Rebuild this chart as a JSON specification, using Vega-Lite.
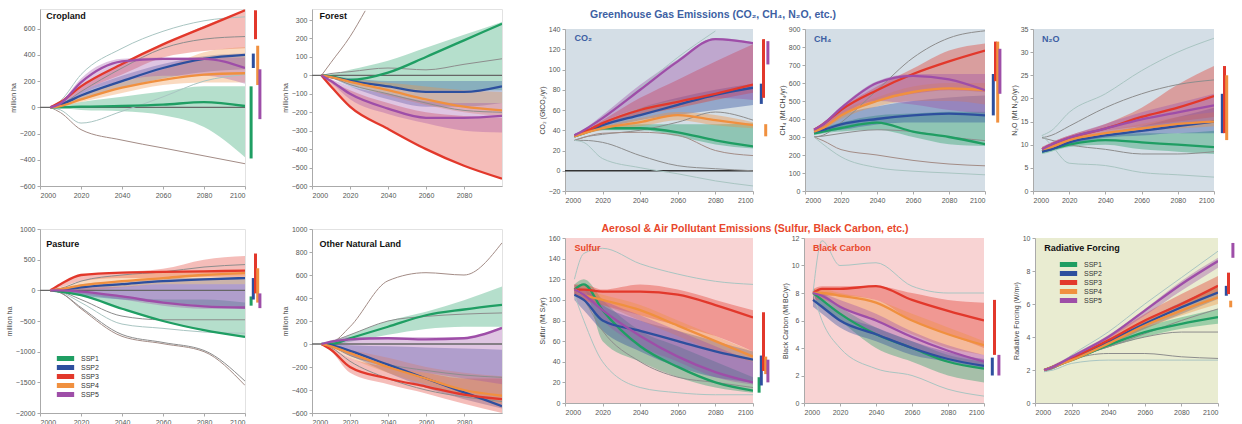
{
"$schema":"https://vega.github.io/schema/vega-lite/v6.json",
"padding":{"left":4,"top":8,"right":0,"bottom":0},
"datasets":{
"ssp":[
{"p":"crop","s":"SSP1","x":2005,"m":0,"lo":0,"hi":0},{"p":"crop","s":"SSP1","x":2010,"m":0,"lo":-5,"hi":10},{"p":"crop","s":"SSP1","x":2020,"m":5,"lo":-20,"hi":40},{"p":"crop","s":"SSP1","x":2040,"m":10,"lo":-30,"hi":80},{"p":"crop","s":"SSP1","x":2060,"m":20,"lo":-60,"hi":120},{"p":"crop","s":"SSP1","x":2080,"m":40,"lo":-150,"hi":160},{"p":"crop","s":"SSP1","x":2100,"m":10,"lo":-380,"hi":160},
{"p":"crop","s":"SSP2","x":2005,"m":0,"lo":0,"hi":0},{"p":"crop","s":"SSP2","x":2010,"m":20,"lo":10,"hi":30},{"p":"crop","s":"SSP2","x":2020,"m":90,"lo":60,"hi":120},{"p":"crop","s":"SSP2","x":2040,"m":200,"lo":150,"hi":240},{"p":"crop","s":"SSP2","x":2060,"m":300,"lo":220,"hi":330},{"p":"crop","s":"SSP2","x":2080,"m":370,"lo":270,"hi":390},{"p":"crop","s":"SSP2","x":2100,"m":400,"lo":290,"hi":410},
{"p":"crop","s":"SSP3","x":2005,"m":0,"lo":0,"hi":0},{"p":"crop","s":"SSP3","x":2010,"m":40,"lo":30,"hi":40},{"p":"crop","s":"SSP3","x":2020,"m":160,"lo":120,"hi":160},{"p":"crop","s":"SSP3","x":2040,"m":330,"lo":250,"hi":330},{"p":"crop","s":"SSP3","x":2060,"m":480,"lo":380,"hi":480},{"p":"crop","s":"SSP3","x":2080,"m":610,"lo":430,"hi":620},{"p":"crop","s":"SSP3","x":2100,"m":740,"lo":450,"hi":740},
{"p":"crop","s":"SSP4","x":2005,"m":0,"lo":0,"hi":0},{"p":"crop","s":"SSP4","x":2010,"m":10,"lo":5,"hi":20},{"p":"crop","s":"SSP4","x":2020,"m":60,"lo":40,"hi":90},{"p":"crop","s":"SSP4","x":2040,"m":150,"lo":110,"hi":190},{"p":"crop","s":"SSP4","x":2060,"m":210,"lo":170,"hi":290},{"p":"crop","s":"SSP4","x":2080,"m":250,"lo":190,"hi":420},{"p":"crop","s":"SSP4","x":2100,"m":260,"lo":190,"hi":460},
{"p":"crop","s":"SSP5","x":2005,"m":0,"lo":0,"hi":0},{"p":"crop","s":"SSP5","x":2010,"m":30,"lo":10,"hi":40},{"p":"crop","s":"SSP5","x":2020,"m":190,"lo":100,"hi":220},{"p":"crop","s":"SSP5","x":2040,"m":350,"lo":200,"hi":370},{"p":"crop","s":"SSP5","x":2060,"m":370,"lo":240,"hi":380},{"p":"crop","s":"SSP5","x":2080,"m":370,"lo":240,"hi":380},{"p":"crop","s":"SSP5","x":2100,"m":300,"lo":180,"hi":380},
{"p":"forest","s":"SSP1","x":2005,"m":0,"lo":0,"hi":0},{"p":"forest","s":"SSP1","x":2010,"m":-5,"lo":-10,"hi":5},{"p":"forest","s":"SSP1","x":2020,"m":-25,"lo":-40,"hi":30},{"p":"forest","s":"SSP1","x":2040,"m":15,"lo":-60,"hi":80},{"p":"forest","s":"SSP1","x":2060,"m":100,"lo":-80,"hi":150},{"p":"forest","s":"SSP1","x":2080,"m":190,"lo":-80,"hi":220},{"p":"forest","s":"SSP1","x":2100,"m":280,"lo":-80,"hi":290},
{"p":"forest","s":"SSP2","x":2005,"m":0,"lo":0,"hi":0},{"p":"forest","s":"SSP2","x":2010,"m":-10,"lo":-15,"hi":-5},{"p":"forest","s":"SSP2","x":2020,"m":-30,"lo":-60,"hi":-15},{"p":"forest","s":"SSP2","x":2040,"m":-60,"lo":-130,"hi":-30},{"p":"forest","s":"SSP2","x":2060,"m":-90,"lo":-170,"hi":-30},{"p":"forest","s":"SSP2","x":2080,"m":-90,"lo":-170,"hi":-30},{"p":"forest","s":"SSP2","x":2100,"m":-60,"lo":-150,"hi":-30},
{"p":"forest","s":"SSP3","x":2005,"m":0,"lo":0,"hi":0},{"p":"forest","s":"SSP3","x":2010,"m":-60,"lo":-60,"hi":-30},{"p":"forest","s":"SSP3","x":2020,"m":-170,"lo":-170,"hi":-80},{"p":"forest","s":"SSP3","x":2040,"m":-290,"lo":-290,"hi":-150},{"p":"forest","s":"SSP3","x":2060,"m":-400,"lo":-400,"hi":-200},{"p":"forest","s":"SSP3","x":2080,"m":-490,"lo":-490,"hi":-220},{"p":"forest","s":"SSP3","x":2100,"m":-560,"lo":-560,"hi":-230},
{"p":"forest","s":"SSP4","x":2005,"m":0,"lo":0,"hi":0},{"p":"forest","s":"SSP4","x":2010,"m":-10,"lo":-15,"hi":-5},{"p":"forest","s":"SSP4","x":2020,"m":-35,"lo":-50,"hi":-20},{"p":"forest","s":"SSP4","x":2040,"m":-80,"lo":-110,"hi":-40},{"p":"forest","s":"SSP4","x":2060,"m":-130,"lo":-160,"hi":-60},{"p":"forest","s":"SSP4","x":2080,"m":-170,"lo":-200,"hi":-80},{"p":"forest","s":"SSP4","x":2100,"m":-190,"lo":-220,"hi":-90},
{"p":"forest","s":"SSP5","x":2005,"m":0,"lo":0,"hi":0},{"p":"forest","s":"SSP5","x":2010,"m":-30,"lo":-40,"hi":-20},{"p":"forest","s":"SSP5","x":2020,"m":-100,"lo":-130,"hi":-60},{"p":"forest","s":"SSP5","x":2040,"m":-180,"lo":-210,"hi":-100},{"p":"forest","s":"SSP5","x":2060,"m":-230,"lo":-260,"hi":-140},{"p":"forest","s":"SSP5","x":2080,"m":-230,"lo":-300,"hi":-150},{"p":"forest","s":"SSP5","x":2100,"m":-220,"lo":-310,"hi":-150},
{"p":"pasture","s":"SSP1","x":2005,"m":0,"lo":0,"hi":0},{"p":"pasture","s":"SSP1","x":2010,"m":-20,"lo":-25,"hi":0},{"p":"pasture","s":"SSP1","x":2020,"m":-80,"lo":-90,"hi":-30},{"p":"pasture","s":"SSP1","x":2040,"m":-300,"lo":-310,"hi":-100},{"p":"pasture","s":"SSP1","x":2060,"m":-500,"lo":-510,"hi":-150},{"p":"pasture","s":"SSP1","x":2080,"m":-650,"lo":-660,"hi":-150},{"p":"pasture","s":"SSP1","x":2100,"m":-760,"lo":-770,"hi":-200},
{"p":"pasture","s":"SSP2","x":2005,"m":0,"lo":0,"hi":0},{"p":"pasture","s":"SSP2","x":2010,"m":10,"lo":-20,"hi":20},{"p":"pasture","s":"SSP2","x":2020,"m":50,"lo":-80,"hi":100},{"p":"pasture","s":"SSP2","x":2040,"m":100,"lo":-150,"hi":150},{"p":"pasture","s":"SSP2","x":2060,"m":150,"lo":-200,"hi":200},{"p":"pasture","s":"SSP2","x":2080,"m":180,"lo":-250,"hi":200},{"p":"pasture","s":"SSP2","x":2100,"m":200,"lo":-300,"hi":210},
{"p":"pasture","s":"SSP3","x":2005,"m":0,"lo":0,"hi":0},{"p":"pasture","s":"SSP3","x":2010,"m":100,"lo":50,"hi":100},{"p":"pasture","s":"SSP3","x":2020,"m":250,"lo":150,"hi":260},{"p":"pasture","s":"SSP3","x":2040,"m":290,"lo":200,"hi":300},{"p":"pasture","s":"SSP3","x":2060,"m":300,"lo":200,"hi":350},{"p":"pasture","s":"SSP3","x":2080,"m":310,"lo":220,"hi":500},{"p":"pasture","s":"SSP3","x":2100,"m":320,"lo":220,"hi":560},
{"p":"pasture","s":"SSP4","x":2005,"m":0,"lo":0,"hi":0},{"p":"pasture","s":"SSP4","x":2010,"m":20,"lo":0,"hi":50},{"p":"pasture","s":"SSP4","x":2020,"m":80,"lo":0,"hi":150},{"p":"pasture","s":"SSP4","x":2040,"m":150,"lo":50,"hi":250},{"p":"pasture","s":"SSP4","x":2060,"m":200,"lo":100,"hi":300},{"p":"pasture","s":"SSP4","x":2080,"m":250,"lo":100,"hi":320},{"p":"pasture","s":"SSP4","x":2100,"m":280,"lo":100,"hi":330},
{"p":"pasture","s":"SSP5","x":2005,"m":0,"lo":0,"hi":0},{"p":"pasture","s":"SSP5","x":2010,"m":0,"lo":-20,"hi":20},{"p":"pasture","s":"SSP5","x":2020,"m":-20,"lo":-60,"hi":40},{"p":"pasture","s":"SSP5","x":2040,"m":-100,"lo":-150,"hi":60},{"p":"pasture","s":"SSP5","x":2060,"m":-200,"lo":-250,"hi":100},{"p":"pasture","s":"SSP5","x":2080,"m":-260,"lo":-300,"hi":100},{"p":"pasture","s":"SSP5","x":2100,"m":-280,"lo":-300,"hi":100},
{"p":"other","s":"SSP1","x":2005,"m":0,"lo":0,"hi":0},{"p":"other","s":"SSP1","x":2010,"m":0,"lo":-10,"hi":10},{"p":"other","s":"SSP1","x":2020,"m":50,"lo":20,"hi":80},{"p":"other","s":"SSP1","x":2040,"m":150,"lo":80,"hi":200},{"p":"other","s":"SSP1","x":2060,"m":250,"lo":130,"hi":280},{"p":"other","s":"SSP1","x":2080,"m":300,"lo":150,"hi":380},{"p":"other","s":"SSP1","x":2100,"m":340,"lo":150,"hi":500},
{"p":"other","s":"SSP2","x":2005,"m":0,"lo":0,"hi":0},{"p":"other","s":"SSP2","x":2010,"m":-10,"lo":-20,"hi":0},{"p":"other","s":"SSP2","x":2020,"m":-60,"lo":-100,"hi":-10},{"p":"other","s":"SSP2","x":2040,"m":-180,"lo":-250,"hi":-20},{"p":"other","s":"SSP2","x":2060,"m":-300,"lo":-380,"hi":-30},{"p":"other","s":"SSP2","x":2080,"m":-420,"lo":-480,"hi":-40},{"p":"other","s":"SSP2","x":2100,"m":-540,"lo":-560,"hi":-50},
{"p":"other","s":"SSP3","x":2005,"m":0,"lo":0,"hi":0},{"p":"other","s":"SSP3","x":2010,"m":-50,"lo":-60,"hi":-30},{"p":"other","s":"SSP3","x":2020,"m":-200,"lo":-250,"hi":-120},{"p":"other","s":"SSP3","x":2040,"m":-300,"lo":-350,"hi":-200},{"p":"other","s":"SSP3","x":2060,"m":-370,"lo":-430,"hi":-250},{"p":"other","s":"SSP3","x":2080,"m":-440,"lo":-520,"hi":-300},{"p":"other","s":"SSP3","x":2100,"m":-480,"lo":-600,"hi":-300},
{"p":"other","s":"SSP4","x":2005,"m":0,"lo":0,"hi":0},{"p":"other","s":"SSP4","x":2010,"m":-20,"lo":-30,"hi":-10},{"p":"other","s":"SSP4","x":2020,"m":-80,"lo":-120,"hi":-50},{"p":"other","s":"SSP4","x":2040,"m":-200,"lo":-250,"hi":-120},{"p":"other","s":"SSP4","x":2060,"m":-300,"lo":-350,"hi":-200},{"p":"other","s":"SSP4","x":2080,"m":-400,"lo":-450,"hi":-250},{"p":"other","s":"SSP4","x":2100,"m":-450,"lo":-520,"hi":-280},
{"p":"other","s":"SSP5","x":2005,"m":0,"lo":0,"hi":0},{"p":"other","s":"SSP5","x":2010,"m":20,"lo":-20,"hi":30},{"p":"other","s":"SSP5","x":2020,"m":40,"lo":-100,"hi":60},{"p":"other","s":"SSP5","x":2040,"m":50,"lo":-200,"hi":60},{"p":"other","s":"SSP5","x":2060,"m":40,"lo":-250,"hi":60},{"p":"other","s":"SSP5","x":2080,"m":50,"lo":-300,"hi":60},{"p":"other","s":"SSP5","x":2100,"m":140,"lo":-350,"hi":150},
{"p":"co2","s":"SSP1","x":2005,"m":34,"lo":33,"hi":36},{"p":"co2","s":"SSP1","x":2010,"m":37,"lo":36,"hi":39},{"p":"co2","s":"SSP1","x":2020,"m":42,"lo":40,"hi":44},{"p":"co2","s":"SSP1","x":2040,"m":42,"lo":40,"hi":46},{"p":"co2","s":"SSP1","x":2060,"m":38,"lo":34,"hi":46},{"p":"co2","s":"SSP1","x":2080,"m":30,"lo":26,"hi":46},{"p":"co2","s":"SSP1","x":2100,"m":24,"lo":22,"hi":47},
{"p":"co2","s":"SSP2","x":2005,"m":35,"lo":34,"hi":36},{"p":"co2","s":"SSP2","x":2010,"m":38,"lo":37,"hi":40},{"p":"co2","s":"SSP2","x":2020,"m":45,"lo":42,"hi":48},{"p":"co2","s":"SSP2","x":2040,"m":55,"lo":50,"hi":62},{"p":"co2","s":"SSP2","x":2060,"m":65,"lo":55,"hi":72},{"p":"co2","s":"SSP2","x":2080,"m":75,"lo":60,"hi":80},{"p":"co2","s":"SSP2","x":2100,"m":82,"lo":65,"hi":86},
{"p":"co2","s":"SSP3","x":2005,"m":34,"lo":33,"hi":36},{"p":"co2","s":"SSP3","x":2010,"m":38,"lo":37,"hi":40},{"p":"co2","s":"SSP3","x":2020,"m":47,"lo":45,"hi":50},{"p":"co2","s":"SSP3","x":2040,"m":60,"lo":55,"hi":72},{"p":"co2","s":"SSP3","x":2060,"m":68,"lo":62,"hi":90},{"p":"co2","s":"SSP3","x":2080,"m":76,"lo":70,"hi":108},{"p":"co2","s":"SSP3","x":2100,"m":85,"lo":77,"hi":125},
{"p":"co2","s":"SSP4","x":2005,"m":34,"lo":33,"hi":36},{"p":"co2","s":"SSP4","x":2010,"m":37,"lo":36,"hi":39},{"p":"co2","s":"SSP4","x":2020,"m":42,"lo":40,"hi":44},{"p":"co2","s":"SSP4","x":2040,"m":48,"lo":44,"hi":52},{"p":"co2","s":"SSP4","x":2060,"m":55,"lo":50,"hi":58},{"p":"co2","s":"SSP4","x":2080,"m":50,"lo":45,"hi":55},{"p":"co2","s":"SSP4","x":2100,"m":45,"lo":42,"hi":48},
{"p":"co2","s":"SSP5","x":2005,"m":35,"lo":34,"hi":36},{"p":"co2","s":"SSP5","x":2010,"m":40,"lo":38,"hi":41},{"p":"co2","s":"SSP5","x":2020,"m":52,"lo":48,"hi":55},{"p":"co2","s":"SSP5","x":2040,"m":80,"lo":62,"hi":85},{"p":"co2","s":"SSP5","x":2060,"m":108,"lo":70,"hi":110},{"p":"co2","s":"SSP5","x":2080,"m":130,"lo":72,"hi":131},{"p":"co2","s":"SSP5","x":2100,"m":126,"lo":70,"hi":127},
{"p":"ch4","s":"SSP1","x":2005,"m":320,"lo":310,"hi":330},{"p":"ch4","s":"SSP1","x":2010,"m":330,"lo":320,"hi":350},{"p":"ch4","s":"SSP1","x":2020,"m":350,"lo":330,"hi":380},{"p":"ch4","s":"SSP1","x":2040,"m":380,"lo":340,"hi":420},{"p":"ch4","s":"SSP1","x":2060,"m":330,"lo":300,"hi":430},{"p":"ch4","s":"SSP1","x":2080,"m":300,"lo":260,"hi":440},{"p":"ch4","s":"SSP1","x":2100,"m":260,"lo":250,"hi":440},
{"p":"ch4","s":"SSP2","x":2005,"m":330,"lo":320,"hi":340},{"p":"ch4","s":"SSP2","x":2010,"m":340,"lo":330,"hi":360},{"p":"ch4","s":"SSP2","x":2020,"m":370,"lo":340,"hi":420},{"p":"ch4","s":"SSP2","x":2040,"m":400,"lo":370,"hi":470},{"p":"ch4","s":"SSP2","x":2060,"m":420,"lo":380,"hi":500},{"p":"ch4","s":"SSP2","x":2080,"m":430,"lo":380,"hi":520},{"p":"ch4","s":"SSP2","x":2100,"m":420,"lo":380,"hi":530},
{"p":"ch4","s":"SSP3","x":2005,"m":340,"lo":330,"hi":345},{"p":"ch4","s":"SSP3","x":2010,"m":370,"lo":350,"hi":380},{"p":"ch4","s":"SSP3","x":2020,"m":450,"lo":420,"hi":460},{"p":"ch4","s":"SSP3","x":2040,"m":560,"lo":500,"hi":580},{"p":"ch4","s":"SSP3","x":2060,"m":650,"lo":540,"hi":680},{"p":"ch4","s":"SSP3","x":2080,"m":720,"lo":560,"hi":780},{"p":"ch4","s":"SSP3","x":2100,"m":780,"lo":550,"hi":820},
{"p":"ch4","s":"SSP4","x":2005,"m":330,"lo":320,"hi":340},{"p":"ch4","s":"SSP4","x":2010,"m":350,"lo":340,"hi":360},{"p":"ch4","s":"SSP4","x":2020,"m":420,"lo":400,"hi":440},{"p":"ch4","s":"SSP4","x":2040,"m":500,"lo":470,"hi":520},{"p":"ch4","s":"SSP4","x":2060,"m":550,"lo":500,"hi":580},{"p":"ch4","s":"SSP4","x":2080,"m":570,"lo":500,"hi":600},{"p":"ch4","s":"SSP4","x":2100,"m":560,"lo":480,"hi":600},
{"p":"ch4","s":"SSP5","x":2005,"m":340,"lo":330,"hi":345},{"p":"ch4","s":"SSP5","x":2010,"m":370,"lo":350,"hi":380},{"p":"ch4","s":"SSP5","x":2020,"m":460,"lo":420,"hi":470},{"p":"ch4","s":"SSP5","x":2040,"m":600,"lo":500,"hi":610},{"p":"ch4","s":"SSP5","x":2060,"m":640,"lo":480,"hi":650},{"p":"ch4","s":"SSP5","x":2080,"m":620,"lo":450,"hi":650},{"p":"ch4","s":"SSP5","x":2100,"m":560,"lo":430,"hi":650},
{"p":"n2o","s":"SSP1","x":2005,"m":8.5,"lo":8,"hi":9},{"p":"n2o","s":"SSP1","x":2010,"m":9,"lo":8.5,"hi":9.5},{"p":"n2o","s":"SSP1","x":2020,"m":10,"lo":9.5,"hi":11},{"p":"n2o","s":"SSP1","x":2040,"m":11,"lo":10,"hi":12},{"p":"n2o","s":"SSP1","x":2060,"m":10.5,"lo":9,"hi":12.5},{"p":"n2o","s":"SSP1","x":2080,"m":10,"lo":8.5,"hi":12.5},{"p":"n2o","s":"SSP1","x":2100,"m":9.5,"lo":8,"hi":13},
{"p":"n2o","s":"SSP2","x":2005,"m":8.5,"lo":8.3,"hi":9},{"p":"n2o","s":"SSP2","x":2010,"m":9,"lo":8.8,"hi":9.5},{"p":"n2o","s":"SSP2","x":2020,"m":10.5,"lo":10,"hi":11},{"p":"n2o","s":"SSP2","x":2040,"m":12,"lo":11.5,"hi":12.5},{"p":"n2o","s":"SSP2","x":2060,"m":13,"lo":12,"hi":14},{"p":"n2o","s":"SSP2","x":2080,"m":14,"lo":12.5,"hi":16},{"p":"n2o","s":"SSP2","x":2100,"m":15,"lo":12.5,"hi":18},
{"p":"n2o","s":"SSP3","x":2005,"m":9,"lo":8.5,"hi":9.5},{"p":"n2o","s":"SSP3","x":2010,"m":10,"lo":9.5,"hi":10.5},{"p":"n2o","s":"SSP3","x":2020,"m":11.5,"lo":11,"hi":12},{"p":"n2o","s":"SSP3","x":2040,"m":13.5,"lo":13,"hi":14.5},{"p":"n2o","s":"SSP3","x":2060,"m":16,"lo":14,"hi":18},{"p":"n2o","s":"SSP3","x":2080,"m":18,"lo":15,"hi":23},{"p":"n2o","s":"SSP3","x":2100,"m":20.5,"lo":16,"hi":27},
{"p":"n2o","s":"SSP4","x":2005,"m":9,"lo":8.5,"hi":9.5},{"p":"n2o","s":"SSP4","x":2010,"m":9.5,"lo":9,"hi":10},{"p":"n2o","s":"SSP4","x":2020,"m":11,"lo":10.5,"hi":11.5},{"p":"n2o","s":"SSP4","x":2040,"m":12.5,"lo":12,"hi":13},{"p":"n2o","s":"SSP4","x":2060,"m":13.5,"lo":13,"hi":14.5},{"p":"n2o","s":"SSP4","x":2080,"m":14.5,"lo":13.5,"hi":16},{"p":"n2o","s":"SSP4","x":2100,"m":15,"lo":14,"hi":17},
{"p":"n2o","s":"SSP5","x":2005,"m":9,"lo":8.5,"hi":9.5},{"p":"n2o","s":"SSP5","x":2010,"m":10,"lo":9.5,"hi":10.5},{"p":"n2o","s":"SSP5","x":2020,"m":11.5,"lo":11,"hi":12},{"p":"n2o","s":"SSP5","x":2040,"m":13.5,"lo":12.5,"hi":14.5},{"p":"n2o","s":"SSP5","x":2060,"m":15.5,"lo":13.5,"hi":17},{"p":"n2o","s":"SSP5","x":2080,"m":17,"lo":14,"hi":19},{"p":"n2o","s":"SSP5","x":2100,"m":18.5,"lo":15,"hi":21},
{"p":"sulfur","s":"SSP1","x":2005,"m":110,"lo":105,"hi":115},{"p":"sulfur","s":"SSP1","x":2010,"m":115,"lo":110,"hi":120},{"p":"sulfur","s":"SSP1","x":2020,"m":90,"lo":60,"hi":100},{"p":"sulfur","s":"SSP1","x":2040,"m":55,"lo":40,"hi":70},{"p":"sulfur","s":"SSP1","x":2060,"m":35,"lo":25,"hi":55},{"p":"sulfur","s":"SSP1","x":2080,"m":20,"lo":15,"hi":40},{"p":"sulfur","s":"SSP1","x":2100,"m":12,"lo":10,"hi":25},
{"p":"sulfur","s":"SSP2","x":2005,"m":105,"lo":100,"hi":110},{"p":"sulfur","s":"SSP2","x":2010,"m":100,"lo":90,"hi":110},{"p":"sulfur","s":"SSP2","x":2020,"m":80,"lo":70,"hi":95},{"p":"sulfur","s":"SSP2","x":2040,"m":70,"lo":50,"hi":80},{"p":"sulfur","s":"SSP2","x":2060,"m":60,"lo":35,"hi":70},{"p":"sulfur","s":"SSP2","x":2080,"m":50,"lo":25,"hi":60},{"p":"sulfur","s":"SSP2","x":2100,"m":42,"lo":20,"hi":50},
{"p":"sulfur","s":"SSP3","x":2005,"m":110,"lo":105,"hi":115},{"p":"sulfur","s":"SSP3","x":2010,"m":110,"lo":100,"hi":115},{"p":"sulfur","s":"SSP3","x":2020,"m":108,"lo":95,"hi":110},{"p":"sulfur","s":"SSP3","x":2040,"m":108,"lo":85,"hi":115},{"p":"sulfur","s":"SSP3","x":2060,"m":105,"lo":75,"hi":110},{"p":"sulfur","s":"SSP3","x":2080,"m":95,"lo":65,"hi":100},{"p":"sulfur","s":"SSP3","x":2100,"m":83,"lo":50,"hi":90},
{"p":"sulfur","s":"SSP4","x":2005,"m":110,"lo":105,"hi":115},{"p":"sulfur","s":"SSP4","x":2010,"m":105,"lo":100,"hi":110},{"p":"sulfur","s":"SSP4","x":2020,"m":100,"lo":95,"hi":105},{"p":"sulfur","s":"SSP4","x":2040,"m":90,"lo":80,"hi":95},{"p":"sulfur","s":"SSP4","x":2060,"m":75,"lo":65,"hi":80},{"p":"sulfur","s":"SSP4","x":2080,"m":60,"lo":50,"hi":65},{"p":"sulfur","s":"SSP4","x":2100,"m":45,"lo":40,"hi":50},
{"p":"sulfur","s":"SSP5","x":2005,"m":110,"lo":105,"hi":115},{"p":"sulfur","s":"SSP5","x":2010,"m":105,"lo":100,"hi":110},{"p":"sulfur","s":"SSP5","x":2020,"m":90,"lo":80,"hi":100},{"p":"sulfur","s":"SSP5","x":2040,"m":65,"lo":55,"hi":85},{"p":"sulfur","s":"SSP5","x":2060,"m":45,"lo":40,"hi":70},{"p":"sulfur","s":"SSP5","x":2080,"m":30,"lo":25,"hi":55},{"p":"sulfur","s":"SSP5","x":2100,"m":20,"lo":18,"hi":40},
{"p":"bc","s":"SSP1","x":2005,"m":8,"lo":7.5,"hi":8.3},{"p":"bc","s":"SSP1","x":2010,"m":7.5,"lo":7,"hi":8},{"p":"bc","s":"SSP1","x":2020,"m":6.5,"lo":6,"hi":7},{"p":"bc","s":"SSP1","x":2040,"m":5,"lo":4,"hi":5.5},{"p":"bc","s":"SSP1","x":2060,"m":4,"lo":3,"hi":4.5},{"p":"bc","s":"SSP1","x":2080,"m":3,"lo":2,"hi":3.5},{"p":"bc","s":"SSP1","x":2100,"m":2.5,"lo":1.5,"hi":3},
{"p":"bc","s":"SSP2","x":2005,"m":7.5,"lo":7,"hi":8},{"p":"bc","s":"SSP2","x":2010,"m":7,"lo":6.5,"hi":7.5},{"p":"bc","s":"SSP2","x":2020,"m":6,"lo":5.5,"hi":6.5},{"p":"bc","s":"SSP2","x":2040,"m":5,"lo":4.5,"hi":5.5},{"p":"bc","s":"SSP2","x":2060,"m":4,"lo":3.5,"hi":4.5},{"p":"bc","s":"SSP2","x":2080,"m":3.2,"lo":3,"hi":3.7},{"p":"bc","s":"SSP2","x":2100,"m":2.7,"lo":2.5,"hi":3.2},
{"p":"bc","s":"SSP3","x":2005,"m":8,"lo":7.8,"hi":8.3},{"p":"bc","s":"SSP3","x":2010,"m":8.3,"lo":7.8,"hi":8.5},{"p":"bc","s":"SSP3","x":2020,"m":8.3,"lo":7.8,"hi":8.5},{"p":"bc","s":"SSP3","x":2040,"m":8.5,"lo":7.5,"hi":8.5},{"p":"bc","s":"SSP3","x":2060,"m":7.5,"lo":6,"hi":8},{"p":"bc","s":"SSP3","x":2080,"m":6.7,"lo":5,"hi":7.5},{"p":"bc","s":"SSP3","x":2100,"m":6,"lo":4,"hi":7.3},
{"p":"bc","s":"SSP4","x":2005,"m":8,"lo":7.5,"hi":8.3},{"p":"bc","s":"SSP4","x":2010,"m":8,"lo":7.5,"hi":8.3},{"p":"bc","s":"SSP4","x":2020,"m":7.8,"lo":7,"hi":8},{"p":"bc","s":"SSP4","x":2040,"m":7.3,"lo":6,"hi":7.5},{"p":"bc","s":"SSP4","x":2060,"m":6,"lo":5,"hi":6.5},{"p":"bc","s":"SSP4","x":2080,"m":5,"lo":4,"hi":5.5},{"p":"bc","s":"SSP4","x":2100,"m":4.2,"lo":3.5,"hi":4.5},
{"p":"bc","s":"SSP5","x":2005,"m":8,"lo":7.5,"hi":8.3},{"p":"bc","s":"SSP5","x":2010,"m":7.8,"lo":7.5,"hi":8},{"p":"bc","s":"SSP5","x":2020,"m":7,"lo":6.5,"hi":7.5},{"p":"bc","s":"SSP5","x":2040,"m":6,"lo":5,"hi":6.5},{"p":"bc","s":"SSP5","x":2060,"m":4.8,"lo":4,"hi":5.2},{"p":"bc","s":"SSP5","x":2080,"m":3.8,"lo":3.2,"hi":4.2},{"p":"bc","s":"SSP5","x":2100,"m":3,"lo":2.7,"hi":3.5},
{"p":"rf","s":"SSP1","x":2005,"m":2.0,"lo":2.0,"hi":2.0},{"p":"rf","s":"SSP1","x":2010,"m":2.2,"lo":2.2,"hi":2.2},{"p":"rf","s":"SSP1","x":2020,"m":2.6,"lo":2.6,"hi":2.7},{"p":"rf","s":"SSP1","x":2040,"m":3.5,"lo":3.4,"hi":3.7},{"p":"rf","s":"SSP1","x":2060,"m":4.3,"lo":4.0,"hi":4.6},{"p":"rf","s":"SSP1","x":2080,"m":4.8,"lo":4.5,"hi":5.2},{"p":"rf","s":"SSP1","x":2100,"m":5.2,"lo":4.8,"hi":5.7},
{"p":"rf","s":"SSP2","x":2005,"m":2.0,"lo":2.0,"hi":2.0},{"p":"rf","s":"SSP2","x":2010,"m":2.2,"lo":2.2,"hi":2.2},{"p":"rf","s":"SSP2","x":2020,"m":2.7,"lo":2.6,"hi":2.7},{"p":"rf","s":"SSP2","x":2040,"m":3.7,"lo":3.5,"hi":3.8},{"p":"rf","s":"SSP2","x":2060,"m":4.8,"lo":4.5,"hi":5.0},{"p":"rf","s":"SSP2","x":2080,"m":5.8,"lo":5.4,"hi":6.1},{"p":"rf","s":"SSP2","x":2100,"m":6.7,"lo":6.3,"hi":7.0},
{"p":"rf","s":"SSP3","x":2005,"m":2.0,"lo":2.0,"hi":2.0},{"p":"rf","s":"SSP3","x":2010,"m":2.2,"lo":2.2,"hi":2.3},{"p":"rf","s":"SSP3","x":2020,"m":2.7,"lo":2.7,"hi":2.8},{"p":"rf","s":"SSP3","x":2040,"m":3.8,"lo":3.7,"hi":4.0},{"p":"rf","s":"SSP3","x":2060,"m":5.0,"lo":4.8,"hi":5.4},{"p":"rf","s":"SSP3","x":2080,"m":6.0,"lo":5.8,"hi":6.6},{"p":"rf","s":"SSP3","x":2100,"m":7.1,"lo":6.6,"hi":7.7},
{"p":"rf","s":"SSP4","x":2005,"m":2.0,"lo":2.0,"hi":2.0},{"p":"rf","s":"SSP4","x":2010,"m":2.2,"lo":2.2,"hi":2.2},{"p":"rf","s":"SSP4","x":2020,"m":2.6,"lo":2.6,"hi":2.7},{"p":"rf","s":"SSP4","x":2040,"m":3.6,"lo":3.5,"hi":3.8},{"p":"rf","s":"SSP4","x":2060,"m":4.7,"lo":4.5,"hi":5.0},{"p":"rf","s":"SSP4","x":2080,"m":5.6,"lo":5.3,"hi":6.0},{"p":"rf","s":"SSP4","x":2100,"m":6.4,"lo":6.0,"hi":7.0},
{"p":"rf","s":"SSP5","x":2005,"m":2.0,"lo":2.0,"hi":2.0},{"p":"rf","s":"SSP5","x":2010,"m":2.2,"lo":2.2,"hi":2.3},{"p":"rf","s":"SSP5","x":2020,"m":2.8,"lo":2.8,"hi":2.9},{"p":"rf","s":"SSP5","x":2040,"m":4.0,"lo":3.9,"hi":4.1},{"p":"rf","s":"SSP5","x":2060,"m":5.6,"lo":5.3,"hi":5.7},{"p":"rf","s":"SSP5","x":2080,"m":7.2,"lo":6.8,"hi":7.4},{"p":"rf","s":"SSP5","x":2100,"m":8.6,"lo":8.2,"hi":8.8}
],
"ref":[
{"p":"crop","r":"SRES baseline","x":2005,"v":0},{"p":"crop","r":"SRES baseline","x":2010,"v":50},{"p":"crop","r":"SRES baseline","x":2020,"v":250},{"p":"crop","r":"SRES baseline","x":2040,"v":450},{"p":"crop","r":"SRES baseline","x":2060,"v":580},{"p":"crop","r":"SRES baseline","x":2080,"v":660},{"p":"crop","r":"SRES baseline","x":2100,"v":690},
{"p":"crop","r":"RCP 4.5","x":2005,"v":0},{"p":"crop","r":"RCP 4.5","x":2010,"v":-40},{"p":"crop","r":"RCP 4.5","x":2020,"v":-170},{"p":"crop","r":"RCP 4.5","x":2040,"v":-250},{"p":"crop","r":"RCP 4.5","x":2060,"v":-310},{"p":"crop","r":"RCP 4.5","x":2080,"v":-370},{"p":"crop","r":"RCP 4.5","x":2100,"v":-430},
{"p":"crop","r":"RCP 8.5","x":2005,"v":0},{"p":"crop","r":"RCP 8.5","x":2010,"v":20},{"p":"crop","r":"RCP 8.5","x":2020,"v":120},{"p":"crop","r":"RCP 8.5","x":2040,"v":300},{"p":"crop","r":"RCP 8.5","x":2060,"v":450},{"p":"crop","r":"RCP 8.5","x":2080,"v":520},{"p":"crop","r":"RCP 8.5","x":2100,"v":540},
{"p":"crop","r":"SRES mitigation","x":2005,"v":0},{"p":"crop","r":"SRES mitigation","x":2010,"v":-20},{"p":"crop","r":"SRES mitigation","x":2020,"v":-120},{"p":"crop","r":"SRES mitigation","x":2040,"v":-30},{"p":"crop","r":"SRES mitigation","x":2060,"v":80},{"p":"crop","r":"SRES mitigation","x":2080,"v":200},{"p":"crop","r":"SRES mitigation","x":2100,"v":250},
{"p":"forest","r":"RCP 4.5","x":2005,"v":0},{"p":"forest","r":"RCP 4.5","x":2010,"v":70},{"p":"forest","r":"RCP 4.5","x":2020,"v":210},{"p":"forest","r":"RCP 4.5","x":2028,"v":350},
{"p":"forest","r":"RCP 8.5","x":2005,"v":0},{"p":"forest","r":"RCP 8.5","x":2010,"v":10},{"p":"forest","r":"RCP 8.5","x":2020,"v":20},{"p":"forest","r":"RCP 8.5","x":2040,"v":40},{"p":"forest","r":"RCP 8.5","x":2060,"v":30},{"p":"forest","r":"RCP 8.5","x":2080,"v":60},{"p":"forest","r":"RCP 8.5","x":2100,"v":90},
{"p":"forest","r":"RCP 6.0","x":2005,"v":0},{"p":"forest","r":"RCP 6.0","x":2010,"v":-10},{"p":"forest","r":"RCP 6.0","x":2020,"v":-50},{"p":"forest","r":"RCP 6.0","x":2040,"v":-100},{"p":"forest","r":"RCP 6.0","x":2060,"v":-150},{"p":"forest","r":"RCP 6.0","x":2080,"v":-190},{"p":"forest","r":"RCP 6.0","x":2100,"v":-200},
{"p":"pasture","r":"SRES baseline","x":2005,"v":0},{"p":"pasture","r":"SRES baseline","x":2010,"v":-30},{"p":"pasture","r":"SRES baseline","x":2020,"v":-200},{"p":"pasture","r":"SRES baseline","x":2040,"v":-550},{"p":"pasture","r":"SRES baseline","x":2060,"v":-620},{"p":"pasture","r":"SRES baseline","x":2080,"v":-680},{"p":"pasture","r":"SRES baseline","x":2100,"v":-700},
{"p":"pasture","r":"RCP 4.5","x":2005,"v":0},{"p":"pasture","r":"RCP 4.5","x":2010,"v":-40},{"p":"pasture","r":"RCP 4.5","x":2020,"v":-300},{"p":"pasture","r":"RCP 4.5","x":2040,"v":-750},{"p":"pasture","r":"RCP 4.5","x":2060,"v":-870},{"p":"pasture","r":"RCP 4.5","x":2080,"v":-1000},{"p":"pasture","r":"RCP 4.5","x":2100,"v":-1550},
{"p":"pasture","r":"RCP 2.6","x":2005,"v":0},{"p":"pasture","r":"RCP 2.6","x":2010,"v":-40},{"p":"pasture","r":"RCP 2.6","x":2020,"v":-280},{"p":"pasture","r":"RCP 2.6","x":2040,"v":-720},{"p":"pasture","r":"RCP 2.6","x":2060,"v":-850},{"p":"pasture","r":"RCP 2.6","x":2080,"v":-980},{"p":"pasture","r":"RCP 2.6","x":2100,"v":-1480},
{"p":"pasture","r":"RCP 6.0","x":2005,"v":0},{"p":"pasture","r":"RCP 6.0","x":2010,"v":-20},{"p":"pasture","r":"RCP 6.0","x":2020,"v":-150},{"p":"pasture","r":"RCP 6.0","x":2040,"v":-420},{"p":"pasture","r":"RCP 6.0","x":2060,"v":-480},{"p":"pasture","r":"RCP 6.0","x":2080,"v":-480},{"p":"pasture","r":"RCP 6.0","x":2100,"v":-480},
{"p":"pasture","r":"RCP 8.5","x":2005,"v":0},{"p":"pasture","r":"RCP 8.5","x":2010,"v":30},{"p":"pasture","r":"RCP 8.5","x":2020,"v":150},{"p":"pasture","r":"RCP 8.5","x":2040,"v":250},{"p":"pasture","r":"RCP 8.5","x":2060,"v":300},{"p":"pasture","r":"RCP 8.5","x":2080,"v":380},{"p":"pasture","r":"RCP 8.5","x":2100,"v":420},
{"p":"other","r":"RCP 4.5","x":2005,"v":0},{"p":"other","r":"RCP 4.5","x":2010,"v":10},{"p":"other","r":"RCP 4.5","x":2020,"v":150},{"p":"other","r":"RCP 4.5","x":2040,"v":550},{"p":"other","r":"RCP 4.5","x":2060,"v":620},{"p":"other","r":"RCP 4.5","x":2080,"v":600},{"p":"other","r":"RCP 4.5","x":2100,"v":880},
{"p":"other","r":"RCP 8.5","x":2005,"v":0},{"p":"other","r":"RCP 8.5","x":2010,"v":20},{"p":"other","r":"RCP 8.5","x":2020,"v":80},{"p":"other","r":"RCP 8.5","x":2040,"v":200},{"p":"other","r":"RCP 8.5","x":2060,"v":240},{"p":"other","r":"RCP 8.5","x":2080,"v":260},{"p":"other","r":"RCP 8.5","x":2100,"v":270},
{"p":"other","r":"RCP 6.0","x":2005,"v":0},{"p":"other","r":"RCP 6.0","x":2010,"v":-20},{"p":"other","r":"RCP 6.0","x":2020,"v":-100},{"p":"other","r":"RCP 6.0","x":2040,"v":-180},{"p":"other","r":"RCP 6.0","x":2060,"v":-230},{"p":"other","r":"RCP 6.0","x":2080,"v":-270},{"p":"other","r":"RCP 6.0","x":2100,"v":-290},
{"p":"other","r":"RCP 2.6","x":2005,"v":0},{"p":"other","r":"RCP 2.6","x":2010,"v":-30},{"p":"other","r":"RCP 2.6","x":2020,"v":-150},{"p":"other","r":"RCP 2.6","x":2040,"v":-300},{"p":"other","r":"RCP 2.6","x":2060,"v":-400},{"p":"other","r":"RCP 2.6","x":2080,"v":-460},{"p":"other","r":"RCP 2.6","x":2100,"v":-500},
{"p":"co2","r":"SRES baseline","x":2005,"v":33},{"p":"co2","r":"SRES baseline","x":2010,"v":38},{"p":"co2","r":"SRES baseline","x":2020,"v":52},{"p":"co2","r":"SRES baseline","x":2040,"v":82},{"p":"co2","r":"SRES baseline","x":2060,"v":112},{"p":"co2","r":"SRES baseline","x":2080,"v":138},
{"p":"co2","r":"RCP 6.0","x":2005,"v":30},{"p":"co2","r":"RCP 6.0","x":2010,"v":33},{"p":"co2","r":"RCP 6.0","x":2020,"v":36},{"p":"co2","r":"RCP 6.0","x":2040,"v":40},{"p":"co2","r":"RCP 6.0","x":2060,"v":48},{"p":"co2","r":"RCP 6.0","x":2080,"v":58},{"p":"co2","r":"RCP 6.0","x":2100,"v":50},
{"p":"co2","r":"RCP 4.5","x":2005,"v":30},{"p":"co2","r":"RCP 4.5","x":2010,"v":33},{"p":"co2","r":"RCP 4.5","x":2020,"v":37},{"p":"co2","r":"RCP 4.5","x":2040,"v":38},{"p":"co2","r":"RCP 4.5","x":2060,"v":35},{"p":"co2","r":"RCP 4.5","x":2080,"v":20},{"p":"co2","r":"RCP 4.5","x":2100,"v":15},
{"p":"co2","r":"RCP 2.6","x":2005,"v":30},{"p":"co2","r":"RCP 2.6","x":2010,"v":30},{"p":"co2","r":"RCP 2.6","x":2020,"v":28},{"p":"co2","r":"RCP 2.6","x":2040,"v":15},{"p":"co2","r":"RCP 2.6","x":2060,"v":5},{"p":"co2","r":"RCP 2.6","x":2080,"v":2},{"p":"co2","r":"RCP 2.6","x":2100,"v":0},
{"p":"co2","r":"SRES mitigation","x":2005,"v":30},{"p":"co2","r":"SRES mitigation","x":2010,"v":28},{"p":"co2","r":"SRES mitigation","x":2020,"v":12},{"p":"co2","r":"SRES mitigation","x":2040,"v":3},{"p":"co2","r":"SRES mitigation","x":2060,"v":-3},{"p":"co2","r":"SRES mitigation","x":2080,"v":-10},{"p":"co2","r":"SRES mitigation","x":2100,"v":-15},
{"p":"ch4","r":"RCP 8.5","x":2005,"v":300},{"p":"ch4","r":"RCP 8.5","x":2010,"v":310},{"p":"ch4","r":"RCP 8.5","x":2020,"v":380},{"p":"ch4","r":"RCP 8.5","x":2040,"v":560},{"p":"ch4","r":"RCP 8.5","x":2060,"v":740},{"p":"ch4","r":"RCP 8.5","x":2080,"v":850},{"p":"ch4","r":"RCP 8.5","x":2100,"v":890},
{"p":"ch4","r":"RCP 6.0","x":2005,"v":300},{"p":"ch4","r":"RCP 6.0","x":2010,"v":305},{"p":"ch4","r":"RCP 6.0","x":2020,"v":320},{"p":"ch4","r":"RCP 6.0","x":2040,"v":340},{"p":"ch4","r":"RCP 6.0","x":2060,"v":330},{"p":"ch4","r":"RCP 6.0","x":2080,"v":300},{"p":"ch4","r":"RCP 6.0","x":2100,"v":280},
{"p":"ch4","r":"RCP 4.5","x":2005,"v":300},{"p":"ch4","r":"RCP 4.5","x":2010,"v":280},{"p":"ch4","r":"RCP 4.5","x":2020,"v":230},{"p":"ch4","r":"RCP 4.5","x":2040,"v":200},{"p":"ch4","r":"RCP 4.5","x":2060,"v":170},{"p":"ch4","r":"RCP 4.5","x":2080,"v":150},{"p":"ch4","r":"RCP 4.5","x":2100,"v":140},
{"p":"ch4","r":"SRES mitigation","x":2005,"v":300},{"p":"ch4","r":"SRES mitigation","x":2010,"v":260},{"p":"ch4","r":"SRES mitigation","x":2020,"v":190},{"p":"ch4","r":"SRES mitigation","x":2040,"v":130},{"p":"ch4","r":"SRES mitigation","x":2060,"v":110},{"p":"ch4","r":"SRES mitigation","x":2080,"v":100},{"p":"ch4","r":"SRES mitigation","x":2100,"v":90},
{"p":"n2o","r":"SRES baseline","x":2005,"v":12},{"p":"n2o","r":"SRES baseline","x":2010,"v":13},{"p":"n2o","r":"SRES baseline","x":2020,"v":17},{"p":"n2o","r":"SRES baseline","x":2040,"v":21},{"p":"n2o","r":"SRES baseline","x":2060,"v":26},{"p":"n2o","r":"SRES baseline","x":2080,"v":30},{"p":"n2o","r":"SRES baseline","x":2100,"v":33},
{"p":"n2o","r":"RCP 8.5","x":2005,"v":11.5},{"p":"n2o","r":"RCP 8.5","x":2010,"v":12},{"p":"n2o","r":"RCP 8.5","x":2020,"v":14},{"p":"n2o","r":"RCP 8.5","x":2040,"v":18},{"p":"n2o","r":"RCP 8.5","x":2060,"v":21},{"p":"n2o","r":"RCP 8.5","x":2080,"v":23},{"p":"n2o","r":"RCP 8.5","x":2100,"v":24},
{"p":"n2o","r":"RCP 6.0","x":2005,"v":11.5},{"p":"n2o","r":"RCP 6.0","x":2010,"v":11},{"p":"n2o","r":"RCP 6.0","x":2020,"v":10},{"p":"n2o","r":"RCP 6.0","x":2040,"v":9},{"p":"n2o","r":"RCP 6.0","x":2060,"v":8},{"p":"n2o","r":"RCP 6.0","x":2080,"v":8},{"p":"n2o","r":"RCP 6.0","x":2100,"v":8.5},
{"p":"n2o","r":"SRES mitigation","x":2005,"v":12},{"p":"n2o","r":"SRES mitigation","x":2010,"v":10},{"p":"n2o","r":"SRES mitigation","x":2020,"v":6},{"p":"n2o","r":"SRES mitigation","x":2040,"v":5.5},{"p":"n2o","r":"SRES mitigation","x":2060,"v":4},{"p":"n2o","r":"SRES mitigation","x":2080,"v":3.5},{"p":"n2o","r":"SRES mitigation","x":2100,"v":3},
{"p":"sulfur","r":"SRES baseline","x":2005,"v":120},{"p":"sulfur","r":"SRES baseline","x":2010,"v":145},{"p":"sulfur","r":"SRES baseline","x":2020,"v":150},{"p":"sulfur","r":"SRES baseline","x":2040,"v":135},{"p":"sulfur","r":"SRES baseline","x":2060,"v":125},{"p":"sulfur","r":"SRES baseline","x":2080,"v":118},{"p":"sulfur","r":"SRES baseline","x":2100,"v":115},
{"p":"sulfur","r":"SRES mitigation","x":2005,"v":105},{"p":"sulfur","r":"SRES mitigation","x":2010,"v":80},{"p":"sulfur","r":"SRES mitigation","x":2020,"v":40},{"p":"sulfur","r":"SRES mitigation","x":2040,"v":15},{"p":"sulfur","r":"SRES mitigation","x":2060,"v":10},{"p":"sulfur","r":"SRES mitigation","x":2080,"v":8},{"p":"sulfur","r":"SRES mitigation","x":2100,"v":8},
{"p":"sulfur","r":"RCP 2.6","x":2005,"v":110},{"p":"sulfur","r":"RCP 2.6","x":2010,"v":100},{"p":"sulfur","r":"RCP 2.6","x":2020,"v":70},{"p":"sulfur","r":"RCP 2.6","x":2040,"v":40},{"p":"sulfur","r":"RCP 2.6","x":2060,"v":25},{"p":"sulfur","r":"RCP 2.6","x":2080,"v":20},{"p":"sulfur","r":"RCP 2.6","x":2100,"v":15},
{"p":"bc","r":"SRES baseline","x":2005,"v":8},{"p":"bc","r":"SRES baseline","x":2010,"v":11.8},{"p":"bc","r":"SRES baseline","x":2020,"v":10},{"p":"bc","r":"SRES baseline","x":2040,"v":10.2},{"p":"bc","r":"SRES baseline","x":2060,"v":8.5},{"p":"bc","r":"SRES baseline","x":2080,"v":8},{"p":"bc","r":"SRES baseline","x":2100,"v":8},
{"p":"bc","r":"SRES mitigation","x":2005,"v":8},{"p":"bc","r":"SRES mitigation","x":2010,"v":6},{"p":"bc","r":"SRES mitigation","x":2020,"v":4},{"p":"bc","r":"SRES mitigation","x":2040,"v":2.5},{"p":"bc","r":"SRES mitigation","x":2060,"v":2},{"p":"bc","r":"SRES mitigation","x":2080,"v":1},{"p":"bc","r":"SRES mitigation","x":2100,"v":0.5},
{"p":"rf","r":"SRES baseline","x":2005,"v":1.9},{"p":"rf","r":"SRES baseline","x":2010,"v":2.1},{"p":"rf","r":"SRES baseline","x":2020,"v":2.9},{"p":"rf","r":"SRES baseline","x":2040,"v":4.3},{"p":"rf","r":"SRES baseline","x":2060,"v":6.0},{"p":"rf","r":"SRES baseline","x":2080,"v":7.6},{"p":"rf","r":"SRES baseline","x":2100,"v":9.2},
{"p":"rf","r":"RCP 6.0","x":2005,"v":1.9},{"p":"rf","r":"RCP 6.0","x":2010,"v":2.1},{"p":"rf","r":"RCP 6.0","x":2020,"v":2.7},{"p":"rf","r":"RCP 6.0","x":2040,"v":3.4},{"p":"rf","r":"RCP 6.0","x":2060,"v":4.2},{"p":"rf","r":"RCP 6.0","x":2080,"v":5.0},{"p":"rf","r":"RCP 6.0","x":2100,"v":5.7},
{"p":"rf","r":"RCP 8.5","x":2005,"v":1.9},{"p":"rf","r":"RCP 8.5","x":2010,"v":2.1},{"p":"rf","r":"RCP 8.5","x":2020,"v":2.6},{"p":"rf","r":"RCP 8.5","x":2040,"v":3.4},{"p":"rf","r":"RCP 8.5","x":2060,"v":4.0},{"p":"rf","r":"RCP 8.5","x":2080,"v":4.3},{"p":"rf","r":"RCP 8.5","x":2100,"v":4.3},
{"p":"rf","r":"RCP 2.6","x":2005,"v":1.9},{"p":"rf","r":"RCP 2.6","x":2010,"v":2.1},{"p":"rf","r":"RCP 2.6","x":2020,"v":2.6},{"p":"rf","r":"RCP 2.6","x":2040,"v":3.0},{"p":"rf","r":"RCP 2.6","x":2060,"v":3.0},{"p":"rf","r":"RCP 2.6","x":2080,"v":2.8},{"p":"rf","r":"RCP 2.6","x":2100,"v":2.7},
{"p":"rf","r":"SRES mitigation","x":2005,"v":1.9},{"p":"rf","r":"SRES mitigation","x":2010,"v":2.0},{"p":"rf","r":"SRES mitigation","x":2020,"v":2.4},{"p":"rf","r":"SRES mitigation","x":2040,"v":2.6},{"p":"rf","r":"SRES mitigation","x":2060,"v":2.6},{"p":"rf","r":"SRES mitigation","x":2080,"v":2.6},{"p":"rf","r":"SRES mitigation","x":2100,"v":2.6}
],
"bar":[
{"p":"crop","s":"SSP1","b0":-390,"b1":160},{"p":"crop","s":"SSP2","b0":300,"b1":410},{"p":"crop","s":"SSP3","b0":520,"b1":740},{"p":"crop","s":"SSP4","b0":170,"b1":470},{"p":"crop","s":"SSP5","b0":-90,"b1":290},
{"p":"pasture","s":"SSP1","b0":-250,"b1":-100},{"p":"pasture","s":"SSP2","b0":-150,"b1":200},{"p":"pasture","s":"SSP3","b0":-50,"b1":600},{"p":"pasture","s":"SSP4","b0":-200,"b1":360},{"p":"pasture","s":"SSP5","b0":-290,"b1":-50},
{"p":"co2","s":"SSP2","b0":66,"b1":86},{"p":"co2","s":"SSP3","b0":72,"b1":130},{"p":"co2","s":"SSP4","b0":34,"b1":46},{"p":"co2","s":"SSP5","b0":105,"b1":128},
{"p":"ch4","s":"SSP2","b0":420,"b1":650},{"p":"ch4","s":"SSP3","b0":610,"b1":830},{"p":"ch4","s":"SSP4","b0":380,"b1":830},{"p":"ch4","s":"SSP5","b0":540,"b1":790},
{"p":"n2o","s":"SSP2","b0":12.5,"b1":21},{"p":"n2o","s":"SSP3","b0":12.5,"b1":27},{"p":"n2o","s":"SSP4","b0":11,"b1":25},
{"p":"sulfur","s":"SSP1","b0":10,"b1":25},{"p":"sulfur","s":"SSP2","b0":17,"b1":46},{"p":"sulfur","s":"SSP3","b0":31,"b1":88},{"p":"sulfur","s":"SSP4","b0":28,"b1":45},{"p":"sulfur","s":"SSP5","b0":20,"b1":42},
{"p":"bc","s":"SSP2","b0":2,"b1":3.3},{"p":"bc","s":"SSP3","b0":3.5,"b1":7.5},{"p":"bc","s":"SSP5","b0":2,"b1":3.5},
{"p":"rf","s":"SSP2","b0":6.5,"b1":7.1},{"p":"rf","s":"SSP3","b0":6.6,"b1":7.9},{"p":"rf","s":"SSP4","b0":5.8,"b1":6.2},{"p":"rf","s":"SSP5","b0":8.8,"b1":9.7}
]
},
"config":{
"font":"Liberation Sans",
"view":{"stroke":"#e2e2e2"},
"range":{"category":["#1f9e63","#2d4f9e","#e2382b","#f0903f","#9e4ea8"]},
"axis":{"labelFontSize":7,"labelColor":"#555","labelOverlap":false,"tickCount":30,"titleFontSize":7,"titleFontWeight":"normal","titleColor":"#444","grid":false,"domainColor":"#aaa","tickColor":"#aaa","tickSize":3,"labelPadding":2,"titlePadding":3},
"legend":{"labelFontSize":7,"labelColor":"#333","symbolType":"stroke","symbolStrokeWidth":5,"symbolSize":300,"symbolOpacity":1,"clipHeight":9,"rowPadding":0,"padding":2},
"title":{"font":"Liberation Sans"}
},
"resolve":{"scale":{"color":"independent"},"legend":{"color":"independent"}},
"spacing":34,
"hconcat":[
{"vconcat":[
 {"hconcat":[
  {"width":205,"height":177,
   "layer":[
    {"data":{"name":"ssp"},"transform":[{"filter":"datum.p==='crop'"}],"mark":{"type":"area","opacity":0.33,"interpolate":"monotone","clip":true},"encoding":{"x":{"field":"x","type":"quantitative","scale":{"domain":[2000,2100]},"axis":{"values":[2000,2020,2040,2060,2080,2100],"format":"d","title":null}},"y":{"field":"lo","type":"quantitative","scale":{"domain":[-600,750],"nice":false,"zero":false},"axis":{"title":"million ha","values":[-600,-400,-200,0,200,400,600]}},"y2":{"field":"hi"},"color":{"field":"s","type":"nominal","legend":null}}},
    {"data":{"values":[{"z":0}]},"mark":{"type":"rule","color":"#666","strokeWidth":1.3},"encoding":{"x":{"datum":2000},"x2":{"datum":2100},"y":{"field":"z","type":"quantitative"}}},
    {"data":{"name":"ref"},"transform":[{"filter":"datum.p==='crop'"}],"mark":{"type":"line","strokeWidth":1,"clip":true,"interpolate":"monotone"},"encoding":{"x":{"field":"x","type":"quantitative"},"y":{"field":"v","type":"quantitative"},"stroke":{"field":"r","type":"nominal","scale":{"domain":["SRES baseline","SRES mitigation","RCP 8.5","RCP 6.0","RCP 4.5","RCP 2.6"],"range":["#a9c5c2","#a9c5c2","#8d8d8d","#8d8d8d","#a38c86","#8d8d8d"]},"legend":null}}},
    {"data":{"name":"ssp"},"transform":[{"filter":"datum.p==='crop'"}],"mark":{"type":"line","strokeWidth":2.3,"interpolate":"monotone","clip":true},"encoding":{"x":{"field":"x","type":"quantitative"},"y":{"field":"m","type":"quantitative"},"color":{"field":"s","type":"nominal","legend":null}}},
    {"data":{"name":"bar"},"transform":[{"filter":"datum.p==='crop'"}],"mark":{"type":"rule","strokeWidth":3},"encoding":{"x":{"datum":2100},"xOffset":{"field":"s","type":"nominal","scale":{"domain":["SSP1","SSP2","SSP3","SSP4","SSP5"],"range":[5,16]}},"y":{"field":"b0","type":"quantitative"},"y2":{"field":"b1"},"color":{"field":"s","type":"nominal","legend":null}}},
    {"data":{"values":[{"t":"Cropland"}]},"mark":{"type":"text","align":"left","baseline":"middle","fontWeight":"bold","fontSize":9,"color":"#111"},"encoding":{"x":{"datum":2003},"y":{"datum":700},"text":{"field":"t"}}}
   ]},
  {"width":190,"height":177,
   "layer":[
    {"data":{"name":"ssp"},"transform":[{"filter":"datum.p==='forest'"}],"mark":{"type":"area","opacity":0.33,"interpolate":"monotone","clip":true},"encoding":{"x":{"field":"x","type":"quantitative","scale":{"domain":[2000,2100]},"axis":{"values":[2000,2020,2040,2060,2080],"format":"d","title":null}},"y":{"field":"lo","type":"quantitative","scale":{"domain":[-600,360],"nice":false,"zero":false},"axis":{"title":"million ha","values":[-600,-500,-400,-300,-200,-100,0,100,200,300]}},"y2":{"field":"hi"},"color":{"field":"s","type":"nominal","legend":null}}},
    {"data":{"values":[{"z":0}]},"mark":{"type":"rule","color":"#666","strokeWidth":1.3},"encoding":{"x":{"datum":2000},"x2":{"datum":2100},"y":{"field":"z","type":"quantitative"}}},
    {"data":{"name":"ref"},"transform":[{"filter":"datum.p==='forest'"}],"mark":{"type":"line","strokeWidth":1,"clip":true,"interpolate":"monotone"},"encoding":{"x":{"field":"x","type":"quantitative"},"y":{"field":"v","type":"quantitative"},"stroke":{"field":"r","type":"nominal","scale":{"domain":["SRES baseline","SRES mitigation","RCP 8.5","RCP 6.0","RCP 4.5","RCP 2.6"],"range":["#a9c5c2","#a9c5c2","#8d8d8d","#8d8d8d","#a38c86","#8d8d8d"]},"legend":null}}},
    {"data":{"name":"ssp"},"transform":[{"filter":"datum.p==='forest'"}],"mark":{"type":"line","strokeWidth":2.3,"interpolate":"monotone","clip":true},"encoding":{"x":{"field":"x","type":"quantitative"},"y":{"field":"m","type":"quantitative"},"color":{"field":"s","type":"nominal","legend":null}}},
    {"data":{"values":[{"t":"Forest"}]},"mark":{"type":"text","align":"left","baseline":"middle","fontWeight":"bold","fontSize":9,"color":"#111"},"encoding":{"x":{"datum":2004},"y":{"datum":322},"text":{"field":"t"}}}
   ]}
 ],"spacing":18,"resolve":{"scale":{"color":"independent"},"legend":{"color":"independent"}}},
 {"hconcat":[
  {"width":205,"height":184,
   "layer":[
    {"data":{"name":"ssp"},"transform":[{"filter":"datum.p==='pasture'"}],"mark":{"type":"area","opacity":0.33,"interpolate":"monotone","clip":true},"encoding":{"x":{"field":"x","type":"quantitative","scale":{"domain":[2000,2100]},"axis":{"values":[2000,2020,2040,2060,2080,2100],"format":"d","title":null}},"y":{"field":"lo","type":"quantitative","scale":{"domain":[-2000,1000],"nice":false,"zero":false},"axis":{"title":"million ha","values":[-2000,-1500,-1000,-500,0,500,1000],"format":"d"}},"y2":{"field":"hi"},"color":{"field":"s","type":"nominal","legend":{"orient":"bottom-left","title":null,"offset":12}}}},
    {"data":{"values":[{"z":0}]},"mark":{"type":"rule","color":"#666","strokeWidth":1.3},"encoding":{"x":{"datum":2000},"x2":{"datum":2100},"y":{"field":"z","type":"quantitative"}}},
    {"data":{"name":"ref"},"transform":[{"filter":"datum.p==='pasture'"}],"mark":{"type":"line","strokeWidth":1,"clip":true,"interpolate":"monotone"},"encoding":{"x":{"field":"x","type":"quantitative"},"y":{"field":"v","type":"quantitative"},"stroke":{"field":"r","type":"nominal","scale":{"domain":["SRES baseline","SRES mitigation","RCP 8.5","RCP 6.0","RCP 4.5","RCP 2.6"],"range":["#a9c5c2","#a9c5c2","#8d8d8d","#8d8d8d","#a38c86","#8d8d8d"]},"legend":null}}},
    {"data":{"name":"ssp"},"transform":[{"filter":"datum.p==='pasture'"}],"mark":{"type":"line","strokeWidth":2.3,"interpolate":"monotone","clip":true},"encoding":{"x":{"field":"x","type":"quantitative"},"y":{"field":"m","type":"quantitative"},"color":{"field":"s","type":"nominal","legend":{"orient":"bottom-left","title":null,"offset":12}}}},
    {"data":{"name":"bar"},"transform":[{"filter":"datum.p==='pasture'"}],"mark":{"type":"rule","strokeWidth":3},"encoding":{"x":{"datum":2100},"xOffset":{"field":"s","type":"nominal","scale":{"domain":["SSP1","SSP2","SSP3","SSP4","SSP5"],"range":[5,16]}},"y":{"field":"b0","type":"quantitative"},"y2":{"field":"b1"},"color":{"field":"s","type":"nominal","legend":{"orient":"bottom-left","title":null,"offset":12}}}},
    {"data":{"values":[{"t":"Pasture"}]},"mark":{"type":"text","align":"left","baseline":"middle","fontWeight":"bold","fontSize":9,"color":"#111"},"encoding":{"x":{"datum":2003},"y":{"datum":755},"text":{"field":"t"}}}
   ]},
  {"width":190,"height":184,
   "layer":[
    {"data":{"name":"ssp"},"transform":[{"filter":"datum.p==='other'"}],"mark":{"type":"area","opacity":0.33,"interpolate":"monotone","clip":true},"encoding":{"x":{"field":"x","type":"quantitative","scale":{"domain":[2000,2100]},"axis":{"values":[2000,2020,2040,2060,2080],"format":"d","title":null}},"y":{"field":"lo","type":"quantitative","scale":{"domain":[-600,1000],"nice":false,"zero":false},"axis":{"title":"million ha","values":[-600,-400,-200,0,200,400,600,800,1000],"format":"d"}},"y2":{"field":"hi"},"color":{"field":"s","type":"nominal","legend":null}}},
    {"data":{"values":[{"z":0}]},"mark":{"type":"rule","color":"#666","strokeWidth":1.3},"encoding":{"x":{"datum":2000},"x2":{"datum":2100},"y":{"field":"z","type":"quantitative"}}},
    {"data":{"name":"ref"},"transform":[{"filter":"datum.p==='other'"}],"mark":{"type":"line","strokeWidth":1,"clip":true,"interpolate":"monotone"},"encoding":{"x":{"field":"x","type":"quantitative"},"y":{"field":"v","type":"quantitative"},"stroke":{"field":"r","type":"nominal","scale":{"domain":["SRES baseline","SRES mitigation","RCP 8.5","RCP 6.0","RCP 4.5","RCP 2.6"],"range":["#a9c5c2","#a9c5c2","#8d8d8d","#8d8d8d","#a38c86","#8d8d8d"]},"legend":null}}},
    {"data":{"name":"ssp"},"transform":[{"filter":"datum.p==='other'"}],"mark":{"type":"line","strokeWidth":2.3,"interpolate":"monotone","clip":true},"encoding":{"x":{"field":"x","type":"quantitative"},"y":{"field":"m","type":"quantitative"},"color":{"field":"s","type":"nominal","legend":null}}},
    {"data":{"values":[{"t":"Other Natural Land"}]},"mark":{"type":"text","align":"left","baseline":"middle","fontWeight":"bold","fontSize":9,"color":"#111"},"encoding":{"x":{"datum":2004},"y":{"datum":870},"text":{"field":"t"}}}
   ]}
 ],"spacing":18,"resolve":{"scale":{"color":"independent"},"legend":{"color":"independent"}}}
],"spacing":25,"resolve":{"scale":{"color":"independent"},"legend":{"color":"independent"}}},
{"vconcat":[
 {"vconcat":[
  {"width":296,"height":11,"view":{"stroke":null},"data":{"values":[{"t":"Greenhouse Gas Emissions (CO₂, CH₄, N₂O, etc.)"}]},"mark":{"type":"text","align":"center","baseline":"middle","fontSize":10.5,"fontWeight":"bold","color":"#3d5fa3"},"encoding":{"text":{"field":"t"}}},
  {"hconcat":[
  {"width":188,"height":162,"view":{"fill":"#d4dee6","stroke":null},
   "layer":[
    {"data":{"name":"ssp"},"transform":[{"filter":"datum.p==='co2'"}],"mark":{"type":"area","opacity":0.38,"interpolate":"monotone","clip":true},"encoding":{"x":{"field":"x","type":"quantitative","scale":{"domain":[2000,2100]},"axis":{"values":[2000,2020,2040,2060,2080,2100],"format":"d","title":null}},"y":{"field":"lo","type":"quantitative","scale":{"domain":[-20,140],"nice":false,"zero":false},"axis":{"title":"CO₂ (GtCO₂/yr)","values":[-20,0,20,40,60,80,100,120,140]}},"y2":{"field":"hi"},"color":{"field":"s","type":"nominal","legend":null}}},
    {"data":{"values":[{"z":0}]},"mark":{"type":"rule","color":"#333","strokeWidth":1.3},"encoding":{"x":{"datum":2000},"x2":{"datum":2100},"y":{"field":"z","type":"quantitative"}}},
    {"data":{"name":"ref"},"transform":[{"filter":"datum.p==='co2'"}],"mark":{"type":"line","strokeWidth":1,"clip":true,"interpolate":"monotone"},"encoding":{"x":{"field":"x","type":"quantitative"},"y":{"field":"v","type":"quantitative"},"stroke":{"field":"r","type":"nominal","scale":{"domain":["SRES baseline","SRES mitigation","RCP 8.5","RCP 6.0","RCP 4.5","RCP 2.6"],"range":["#a9c5c2","#a9c5c2","#8d8d8d","#8d8d8d","#a38c86","#8d8d8d"]},"legend":null}}},
    {"data":{"name":"ssp"},"transform":[{"filter":"datum.p==='co2'"}],"mark":{"type":"line","strokeWidth":2.3,"interpolate":"monotone","clip":true},"encoding":{"x":{"field":"x","type":"quantitative"},"y":{"field":"m","type":"quantitative"},"color":{"field":"s","type":"nominal","legend":null}}},
    {"data":{"name":"bar"},"transform":[{"filter":"datum.p==='co2'"}],"mark":{"type":"rule","strokeWidth":3},"encoding":{"x":{"datum":2100},"xOffset":{"field":"s","type":"nominal","scale":{"domain":["SSP1","SSP2","SSP3","SSP4","SSP5"],"range":[5,16]}},"y":{"field":"b0","type":"quantitative"},"y2":{"field":"b1"},"color":{"field":"s","type":"nominal","legend":null}}},
    {"data":{"values":[{"t":"CO₂"}]},"mark":{"type":"text","align":"left","baseline":"middle","fontWeight":"bold","fontSize":9,"color":"#3d5fa3"},"encoding":{"x":{"datum":2005},"y":{"datum":131},"text":{"field":"t"}}}
   ]},
  {"width":180,"height":162,"view":{"fill":"#d4dee6","stroke":null},
   "layer":[
    {"data":{"name":"ssp"},"transform":[{"filter":"datum.p==='ch4'"}],"mark":{"type":"area","opacity":0.38,"interpolate":"monotone","clip":true},"encoding":{"x":{"field":"x","type":"quantitative","scale":{"domain":[2000,2100]},"axis":{"values":[2000,2020,2040,2060,2080,2100],"format":"d","title":null}},"y":{"field":"lo","type":"quantitative","scale":{"domain":[0,900],"nice":false,"zero":false},"axis":{"title":"CH₄ (Mt CH₄/yr)","values":[0,100,200,300,400,500,600,700,800,900]}},"y2":{"field":"hi"},"color":{"field":"s","type":"nominal","legend":null}}},
    {"data":{"name":"ref"},"transform":[{"filter":"datum.p==='ch4'"}],"mark":{"type":"line","strokeWidth":1,"clip":true,"interpolate":"monotone"},"encoding":{"x":{"field":"x","type":"quantitative"},"y":{"field":"v","type":"quantitative"},"stroke":{"field":"r","type":"nominal","scale":{"domain":["SRES baseline","SRES mitigation","RCP 8.5","RCP 6.0","RCP 4.5","RCP 2.6"],"range":["#a9c5c2","#a9c5c2","#8d8d8d","#8d8d8d","#a38c86","#8d8d8d"]},"legend":null}}},
    {"data":{"name":"ssp"},"transform":[{"filter":"datum.p==='ch4'"}],"mark":{"type":"line","strokeWidth":2.3,"interpolate":"monotone","clip":true},"encoding":{"x":{"field":"x","type":"quantitative"},"y":{"field":"m","type":"quantitative"},"color":{"field":"s","type":"nominal","legend":null}}},
    {"data":{"name":"bar"},"transform":[{"filter":"datum.p==='ch4'"}],"mark":{"type":"rule","strokeWidth":3},"encoding":{"x":{"datum":2100},"xOffset":{"field":"s","type":"nominal","scale":{"domain":["SSP1","SSP2","SSP3","SSP4","SSP5"],"range":[5,16]}},"y":{"field":"b0","type":"quantitative"},"y2":{"field":"b1"},"color":{"field":"s","type":"nominal","legend":null}}},
    {"data":{"values":[{"t":"CH₄"}]},"mark":{"type":"text","align":"left","baseline":"middle","fontWeight":"bold","fontSize":9,"color":"#3d5fa3"},"encoding":{"x":{"datum":2005},"y":{"datum":845},"text":{"field":"t"}}}
   ]},
  {"width":181,"height":162,"view":{"fill":"#d4dee6","stroke":null},
   "layer":[
    {"data":{"name":"ssp"},"transform":[{"filter":"datum.p==='n2o'"}],"mark":{"type":"area","opacity":0.38,"interpolate":"monotone","clip":true},"encoding":{"x":{"field":"x","type":"quantitative","scale":{"domain":[2000,2100]},"axis":{"values":[2000,2020,2040,2060,2080,2100],"format":"d","title":null}},"y":{"field":"lo","type":"quantitative","scale":{"domain":[0,35],"nice":false,"zero":false},"axis":{"title":"N₂O (Mt N₂O/yr)","values":[0,5,10,15,20,25,30,35]}},"y2":{"field":"hi"},"color":{"field":"s","type":"nominal","legend":null}}},
    {"data":{"name":"ref"},"transform":[{"filter":"datum.p==='n2o'"}],"mark":{"type":"line","strokeWidth":1,"clip":true,"interpolate":"monotone"},"encoding":{"x":{"field":"x","type":"quantitative"},"y":{"field":"v","type":"quantitative"},"stroke":{"field":"r","type":"nominal","scale":{"domain":["SRES baseline","SRES mitigation","RCP 8.5","RCP 6.0","RCP 4.5","RCP 2.6"],"range":["#a9c5c2","#a9c5c2","#8d8d8d","#8d8d8d","#a38c86","#8d8d8d"]},"legend":null}}},
    {"data":{"name":"ssp"},"transform":[{"filter":"datum.p==='n2o'"}],"mark":{"type":"line","strokeWidth":2.3,"interpolate":"monotone","clip":true},"encoding":{"x":{"field":"x","type":"quantitative"},"y":{"field":"m","type":"quantitative"},"color":{"field":"s","type":"nominal","legend":null}}},
    {"data":{"name":"bar"},"transform":[{"filter":"datum.p==='n2o'"}],"mark":{"type":"rule","strokeWidth":3},"encoding":{"x":{"datum":2100},"xOffset":{"field":"s","type":"nominal","scale":{"domain":["SSP1","SSP2","SSP3","SSP4","SSP5"],"range":[5,16]}},"y":{"field":"b0","type":"quantitative"},"y2":{"field":"b1"},"color":{"field":"s","type":"nominal","legend":null}}},
    {"data":{"values":[{"t":"N₂O"}]},"mark":{"type":"text","align":"left","baseline":"middle","fontWeight":"bold","fontSize":9,"color":"#3d5fa3"},"encoding":{"x":{"datum":2005},"y":{"datum":32.8},"text":{"field":"t"}}}
   ]}
  ],"spacing":8,"resolve":{"scale":{"color":"independent"},"legend":{"color":"independent"}}}
 ],"spacing":5,"resolve":{"scale":{"color":"independent"},"legend":{"color":"independent"}}},
 {"vconcat":[
  {"width":380,"height":11,"view":{"stroke":null},"data":{"values":[{"t":"Aerosol & Air Pollutant Emissions (Sulfur, Black Carbon, etc.)"}]},"mark":{"type":"text","align":"center","baseline":"middle","fontSize":10.5,"fontWeight":"bold","color":"#e8472b"},"encoding":{"text":{"field":"t"}}},
  {"hconcat":[
  {"width":188,"height":165,"view":{"fill":"#f8d3d3","stroke":null},
   "layer":[
    {"data":{"name":"ssp"},"transform":[{"filter":"datum.p==='sulfur'"}],"mark":{"type":"area","opacity":0.38,"interpolate":"monotone","clip":true},"encoding":{"x":{"field":"x","type":"quantitative","scale":{"domain":[2000,2100]},"axis":{"values":[2000,2020,2040,2060,2080,2100],"format":"d","title":null}},"y":{"field":"lo","type":"quantitative","scale":{"domain":[0,160],"nice":false,"zero":false},"axis":{"title":"Sulfur (Mt S/yr)","values":[0,20,40,60,80,100,120,140,160]}},"y2":{"field":"hi"},"color":{"field":"s","type":"nominal","legend":null}}},
    {"data":{"name":"ref"},"transform":[{"filter":"datum.p==='sulfur'"}],"mark":{"type":"line","strokeWidth":1,"clip":true,"interpolate":"monotone"},"encoding":{"x":{"field":"x","type":"quantitative"},"y":{"field":"v","type":"quantitative"},"stroke":{"field":"r","type":"nominal","scale":{"domain":["SRES baseline","SRES mitigation","RCP 8.5","RCP 6.0","RCP 4.5","RCP 2.6"],"range":["#a9c5c2","#a9c5c2","#8d8d8d","#8d8d8d","#a38c86","#8d8d8d"]},"legend":null}}},
    {"data":{"name":"ssp"},"transform":[{"filter":"datum.p==='sulfur'"}],"mark":{"type":"line","strokeWidth":2.3,"interpolate":"monotone","clip":true},"encoding":{"x":{"field":"x","type":"quantitative"},"y":{"field":"m","type":"quantitative"},"color":{"field":"s","type":"nominal","legend":null}}},
    {"data":{"name":"bar"},"transform":[{"filter":"datum.p==='sulfur'"}],"mark":{"type":"rule","strokeWidth":3},"encoding":{"x":{"datum":2100},"xOffset":{"field":"s","type":"nominal","scale":{"domain":["SSP1","SSP2","SSP3","SSP4","SSP5"],"range":[5,16]}},"y":{"field":"b0","type":"quantitative"},"y2":{"field":"b1"},"color":{"field":"s","type":"nominal","legend":null}}},
    {"data":{"values":[{"t":"Sulfur"}]},"mark":{"type":"text","align":"left","baseline":"middle","fontWeight":"bold","fontSize":9,"color":"#e8472b"},"encoding":{"x":{"datum":2005},"y":{"datum":150},"text":{"field":"t"}}}
   ]},
  {"width":180,"height":165,"view":{"fill":"#f8d3d3","stroke":null},
   "layer":[
    {"data":{"name":"ssp"},"transform":[{"filter":"datum.p==='bc'"}],"mark":{"type":"area","opacity":0.38,"interpolate":"monotone","clip":true},"encoding":{"x":{"field":"x","type":"quantitative","scale":{"domain":[2000,2100]},"axis":{"values":[2000,2020,2040,2060,2080,2100],"format":"d","title":null}},"y":{"field":"lo","type":"quantitative","scale":{"domain":[0,12],"nice":false,"zero":false},"axis":{"title":"Black Carbon (Mt BC/yr)","values":[0,2,4,6,8,10,12],"format":"d"}},"y2":{"field":"hi"},"color":{"field":"s","type":"nominal","legend":null}}},
    {"data":{"name":"ref"},"transform":[{"filter":"datum.p==='bc'"}],"mark":{"type":"line","strokeWidth":1,"clip":true,"interpolate":"monotone"},"encoding":{"x":{"field":"x","type":"quantitative"},"y":{"field":"v","type":"quantitative"},"stroke":{"field":"r","type":"nominal","scale":{"domain":["SRES baseline","SRES mitigation","RCP 8.5","RCP 6.0","RCP 4.5","RCP 2.6"],"range":["#a9c5c2","#a9c5c2","#8d8d8d","#8d8d8d","#a38c86","#8d8d8d"]},"legend":null}}},
    {"data":{"name":"ssp"},"transform":[{"filter":"datum.p==='bc'"}],"mark":{"type":"line","strokeWidth":2.3,"interpolate":"monotone","clip":true},"encoding":{"x":{"field":"x","type":"quantitative"},"y":{"field":"m","type":"quantitative"},"color":{"field":"s","type":"nominal","legend":null}}},
    {"data":{"name":"bar"},"transform":[{"filter":"datum.p==='bc'"}],"mark":{"type":"rule","strokeWidth":3},"encoding":{"x":{"datum":2100},"xOffset":{"field":"s","type":"nominal","scale":{"domain":["SSP1","SSP2","SSP3","SSP4","SSP5"],"range":[5,16]}},"y":{"field":"b0","type":"quantitative"},"y2":{"field":"b1"},"color":{"field":"s","type":"nominal","legend":null}}},
    {"data":{"values":[{"t":"Black Carbon"}]},"mark":{"type":"text","align":"left","baseline":"middle","fontWeight":"bold","fontSize":9,"color":"#e8472b"},"encoding":{"x":{"datum":2005},"y":{"datum":11.3},"text":{"field":"t"}}}
   ]},
  {"width":183,"height":165,"view":{"fill":"#e9ecd1","stroke":null},
   "layer":[
    {"data":{"name":"ssp"},"transform":[{"filter":"datum.p==='rf'"}],"mark":{"type":"area","opacity":0.38,"interpolate":"monotone","clip":true},"encoding":{"x":{"field":"x","type":"quantitative","scale":{"domain":[2000,2100]},"axis":{"values":[2000,2020,2040,2060,2080,2100],"format":"d","title":null}},"y":{"field":"lo","type":"quantitative","scale":{"domain":[0,10],"nice":false,"zero":false},"axis":{"title":"Radiative Forcing (W/m²)","values":[0,2,4,6,8,10],"format":"d"}},"y2":{"field":"hi"},"color":{"field":"s","type":"nominal","legend":{"orient":"top-left","title":null,"offset":20}}}},
    {"data":{"name":"ref"},"transform":[{"filter":"datum.p==='rf'"}],"mark":{"type":"line","strokeWidth":1,"clip":true,"interpolate":"monotone"},"encoding":{"x":{"field":"x","type":"quantitative"},"y":{"field":"v","type":"quantitative"},"stroke":{"field":"r","type":"nominal","scale":{"domain":["SRES baseline","SRES mitigation","RCP 8.5","RCP 6.0","RCP 4.5","RCP 2.6"],"range":["#a9c5c2","#a9c5c2","#8d8d8d","#8d8d8d","#a38c86","#8d8d8d"]},"legend":null}}},
    {"data":{"name":"ssp"},"transform":[{"filter":"datum.p==='rf'"}],"mark":{"type":"line","strokeWidth":2.3,"interpolate":"monotone","clip":true},"encoding":{"x":{"field":"x","type":"quantitative"},"y":{"field":"m","type":"quantitative"},"color":{"field":"s","type":"nominal","legend":{"orient":"top-left","title":null,"offset":20}}}},
    {"data":{"name":"bar"},"transform":[{"filter":"datum.p==='rf'"}],"mark":{"type":"rule","strokeWidth":3},"encoding":{"x":{"datum":2100},"xOffset":{"field":"s","type":"nominal","scale":{"domain":["SSP1","SSP2","SSP3","SSP4","SSP5"],"range":[5,16]}},"y":{"field":"b0","type":"quantitative"},"y2":{"field":"b1"},"color":{"field":"s","type":"nominal","legend":{"orient":"top-left","title":null,"offset":20}}}},
    {"data":{"values":[{"t":"Radiative Forcing"}]},"mark":{"type":"text","align":"left","baseline":"middle","fontWeight":"bold","fontSize":9,"color":"#111"},"encoding":{"x":{"datum":2005},"y":{"datum":9.4},"text":{"field":"t"}}}
   ]}
  ],"spacing":11,"resolve":{"scale":{"color":"independent"},"legend":{"color":"independent"}}}
 ],"spacing":0,"resolve":{"scale":{"color":"independent"},"legend":{"color":"independent"}}}
],"spacing":20,"resolve":{"scale":{"color":"independent"},"legend":{"color":"independent"}}}
]
}
